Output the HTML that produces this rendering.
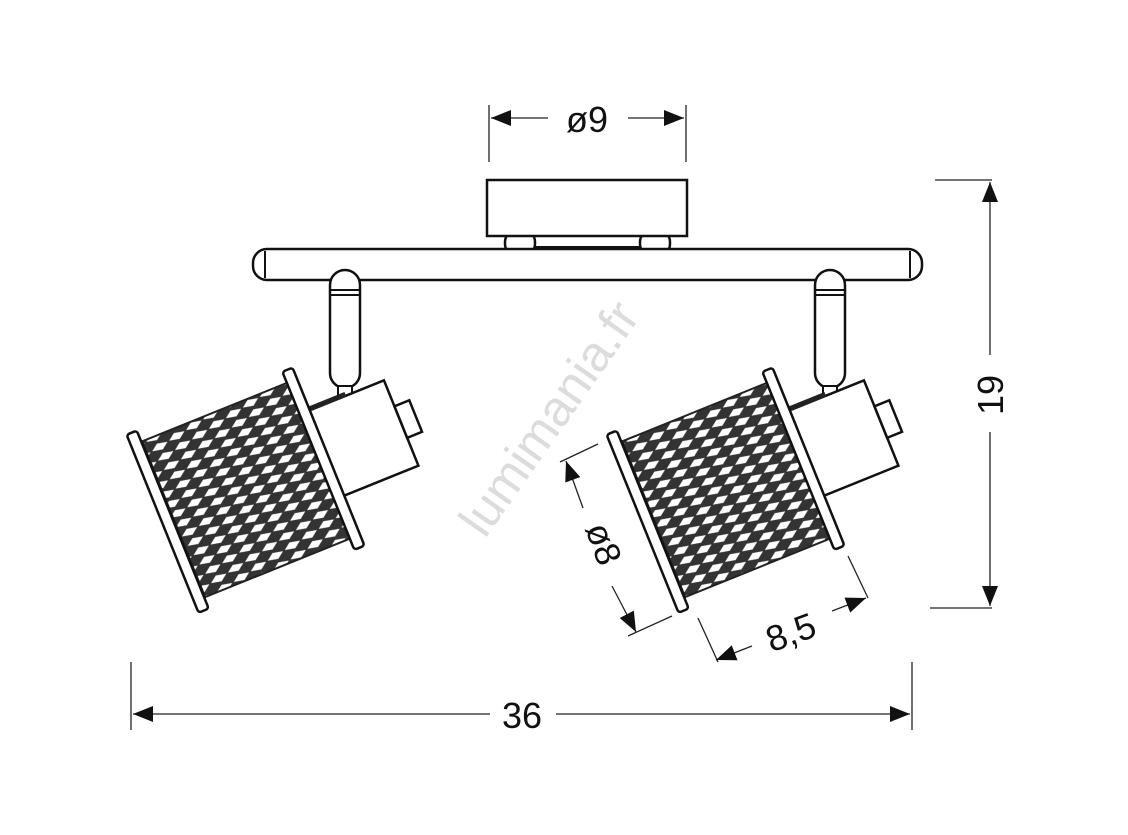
<!DOCTYPE html>
<html><head><style>body{margin:0;background:#fff}svg{display:block}</style></head><body>
<svg width="1128" height="835" viewBox="0 0 1128 835" xmlns="http://www.w3.org/2000/svg" font-family="Liberation Sans, sans-serif">
<defs>
<pattern id="mesh" width="20" height="11" patternUnits="userSpaceOnUse" patternTransform="rotate(-10)">
<rect width="20" height="11" fill="#333"/>
<polygon points="1,5.5 9,1.5 19,5.5 11,9.5" fill="#fff"/>
</pattern>
<marker id="ar" viewBox="0 0 10 10" refX="10" refY="5" markerWidth="20" markerHeight="16" markerUnits="userSpaceOnUse" orient="auto-start-reverse" preserveAspectRatio="none"><path d="M0,0L10,5L0,10z" fill="#111"/></marker>
<g id="lamp">
<rect x="81" y="-50" width="88" height="92" fill="#fff" stroke="#111" stroke-width="2.5"/>
<rect x="169" y="-22" width="16" height="34" fill="#fff" stroke="#111" stroke-width="2.5"/>
<rect x="88" y="-54" width="40" height="5" fill="#222"/>
<path d="M-78,-84 L78,-84 L78,84 L-78,84 Z" fill="url(#mesh)" stroke="#222" stroke-width="2"/>
<rect x="-90" y="-96" width="11" height="192" rx="3" fill="#fff" stroke="#111" stroke-width="2.5"/>
<rect x="78" y="-96" width="11" height="192" rx="3" fill="#fff" stroke="#111" stroke-width="2.5"/>
</g>
<g id="stem">
<rect x="0" y="0" width="30" height="118" rx="15" fill="#fff" stroke="#111" stroke-width="2.5"/>
<line x1="1" y1="20" x2="29" y2="20" stroke="#111" stroke-width="2"/>
<line x1="1" y1="25" x2="29" y2="25" stroke="#111" stroke-width="2"/>
<rect x="8" y="116" width="14" height="12" fill="#fff" stroke="#111" stroke-width="2"/>
</g>
</defs>
<text x="563" y="428" transform="rotate(-55 563 428)" text-anchor="middle" font-size="50" fill="#dcdcdc">lumimania.fr</text>
<rect x="505" y="230" width="30" height="26" rx="12" fill="#fff" stroke="#111" stroke-width="2.5"/>
<rect x="640" y="230" width="30" height="26" rx="12" fill="#fff" stroke="#111" stroke-width="2.5"/>
<rect x="487" y="180" width="200" height="56" fill="#fff" stroke="#111" stroke-width="2.5"/>
<line x1="535" y1="247" x2="640" y2="247" stroke="#111" stroke-width="2"/>
<rect x="253" y="249" width="669" height="31" rx="14" fill="#fff" stroke="#111" stroke-width="2.5"/>
<line x1="265" y1="251" x2="265" y2="278" stroke="#111" stroke-width="2"/>
<line x1="910" y1="251" x2="910" y2="278" stroke="#111" stroke-width="2"/>
<use href="#stem" x="330" y="270"/>
<use href="#stem" x="815" y="270"/>
<g transform="translate(246,490) rotate(-22)"><use href="#lamp"/></g>
<g transform="translate(726,490) rotate(-22)"><use href="#lamp"/></g>
<g stroke="#222" stroke-width="1.3" fill="none">
<line x1="489" y1="105" x2="489" y2="162"/><line x1="686" y1="105" x2="686" y2="162"/>
<line x1="491" y1="118" x2="548" y2="118" marker-start="url(#ar)"/>
<line x1="628" y1="118" x2="684" y2="118" marker-end="url(#ar)"/>
<line x1="935" y1="180" x2="992" y2="180"/><line x1="930" y1="608" x2="992" y2="608"/>
<line x1="990" y1="182" x2="990" y2="355" marker-start="url(#ar)"/>
<line x1="990" y1="432" x2="990" y2="606" marker-end="url(#ar)"/>
<line x1="131" y1="662" x2="131" y2="730"/><line x1="912" y1="662" x2="912" y2="730"/>
<line x1="133" y1="714" x2="490" y2="714" marker-start="url(#ar)"/>
<line x1="556" y1="714" x2="910" y2="714" marker-end="url(#ar)"/>
<line x1="560" y1="462" x2="598" y2="444"/><line x1="628" y1="636" x2="672" y2="616"/>
<line x1="566" y1="461" x2="583" y2="508" marker-start="url(#ar)"/>
<line x1="612" y1="586" x2="636" y2="632" marker-end="url(#ar)"/>
<line x1="698" y1="618" x2="718" y2="662"/><line x1="848" y1="556" x2="868" y2="598"/>
<line x1="716" y1="660" x2="752" y2="646" marker-start="url(#ar)"/>
<line x1="832" y1="611" x2="866" y2="598" marker-end="url(#ar)"/>
</g>
<g fill="#111" font-size="36">
<text x="587" y="132" text-anchor="middle">ø9</text>
<text x="522" y="728" text-anchor="middle">36</text>
<text transform="translate(1003,395) rotate(-90)" text-anchor="middle">19</text>
<text transform="translate(592,548) rotate(70)" text-anchor="middle">ø8</text>
<text transform="translate(795,644) rotate(-20)" text-anchor="middle">8,5</text>
</g>
</svg>
</body></html>
